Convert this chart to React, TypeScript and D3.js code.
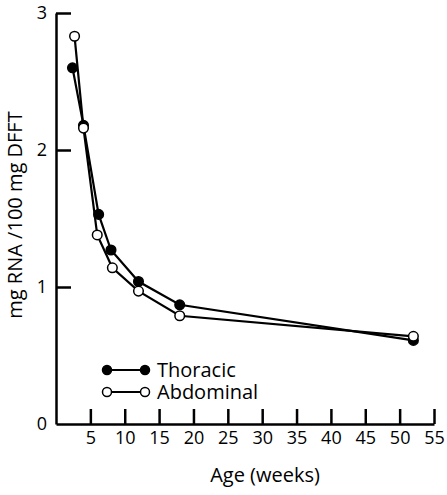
import * as d3 from "d3"
import { useEffect, useRef } from "react"
import React = require("react")

// weeks and mg RNA / 100 mg DFFT
const thoracicWeeks = [2.4, 4, 6.2, 8, 12, 18, 52]
const thoracicValues = [2.6, 2.18, 1.53, 1.27, 1.04, 0.87, 0.61]
const abdominalWeeks = [2.7, 4, 6, 8.2, 12, 18, 52]
const abdominalValues = [2.83, 2.16, 1.38, 1.14, 0.97, 0.79, 0.64]
const xTicks = [5, 10, 15, 20, 25, 30, 35, 40, 45, 50, 55]
const yTicks = [0, 1, 2, 3]
const seriesNames = ["Thoracic", "Abdominal"]

const App = () => {
    const svgRef = useRef(null)

    useEffect(() => {
        const width = 447
        const height = 495
        const margin = { top: 13, right: 13, bottom: 71, left: 56 }
        const font = "'Open Sans', sans-serif"

        const svg = d3.select(svgRef.current)
            .attr("width", width)
            .attr("height", height)
            .style("position", "absolute")
            .style("left", 0)
            .style("top", 0)
            .style("background", "#fff")

        svg.selectAll("*").remove()

        const x = d3.scaleLinear().domain([0, 55]).range([margin.left, width - margin.right])
        const y = d3.scaleLinear().domain([0, 3]).range([height - margin.bottom, margin.top])

        // axes, ticks pointing inwards
        const xAxis = svg.append("g")
            .attr("transform", `translate(0,${y(0)})`)
            .call(d3.axisBottom(x).tickValues(xTicks).tickSizeInner(-15).tickSizeOuter(0).tickPadding(7))
        const yAxis = svg.append("g")
            .attr("transform", `translate(${x(0)},0)`)
            .call(d3.axisLeft(y).tickValues(yTicks).tickFormat(d3.format("d")).tickSizeInner(-15).tickSizeOuter(0).tickPadding(9))

        for (const g of [xAxis, yAxis]) {
            g.select(".domain").attr("stroke", "#000").attr("stroke-width", 2.5)
            g.selectAll(".tick line").attr("stroke", "#000").attr("stroke-width", 2.5)
            g.selectAll(".tick text")
                .attr("fill", "#000")
                .style("font-family", font)
                .style("font-size", "18px")
        }
        yAxis.selectAll(".tick").filter((d) => d === 0).select("line").remove()

        // axis titles
        svg.append("text")
            .attr("x", 265)
            .attr("y", 482)
            .attr("text-anchor", "middle")
            .style("font-family", font)
            .style("font-size", "20px")
            .text("Age (weeks)")

        svg.append("text")
            .attr("transform", `translate(22,215) rotate(-90)`)
            .attr("text-anchor", "middle")
            .style("font-family", font)
            .style("font-size", "20px")
            .text("mg RNA /100 mg DFFT")

        const line = d3.line<[number, number]>().x((d) => x(d[0])).y((d) => y(d[1]))

        const series = [
            { weeks: thoracicWeeks, values: thoracicValues, fill: "#000" },
            { weeks: abdominalWeeks, values: abdominalValues, fill: "#fff" },
        ]

        for (const s of series) {
            const pts = s.weeks.map((w, i) => [w, s.values[i]] as [number, number])
            svg.append("path")
                .attr("d", line(pts))
                .attr("fill", "none")
                .attr("stroke", "#000")
                .attr("stroke-width", 2.2)
            svg.selectAll(null)
                .data(pts)
                .join("circle")
                .attr("cx", (d) => x(d[0]))
                .attr("cy", (d) => y(d[1]))
                .attr("r", 4.8)
                .attr("fill", s.fill)
                .attr("stroke", "#000")
                .attr("stroke-width", 1.5)
        }

        // legend
        const legend = svg.append("g")
        series.forEach((s, i) => {
            const ly = 370 + i * 22
            legend.append("line")
                .attr("x1", 107).attr("x2", 145)
                .attr("y1", ly).attr("y2", ly)
                .attr("stroke", "#000").attr("stroke-width", 2.2)
            for (const cx of [107, 145]) {
                legend.append("circle")
                    .attr("cx", cx).attr("cy", ly).attr("r", 4.5)
                    .attr("fill", s.fill).attr("stroke", "#000").attr("stroke-width", 1.5)
            }
            legend.append("text")
                .attr("x", 157)
                .attr("y", ly + 7)
                .style("font-family", font)
                .style("font-size", "20px")
                .text(seriesNames[i])
        })
    }, [])

    return <svg ref={svgRef}></svg>
}

export default App
